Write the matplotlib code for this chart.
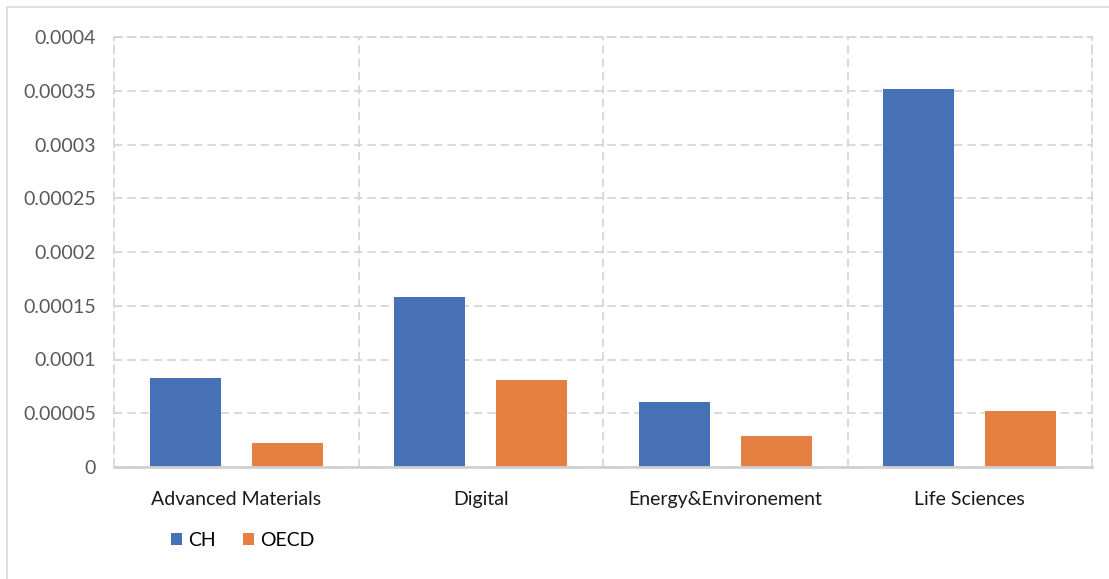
import matplotlib.pyplot as plt
import numpy as np
from matplotlib.patches import Rectangle

categories = ["Advanced Materials", "Digital", "Energy&Environement", "Life Sciences"]
series_names = ["CH", "OECD"]
ch_values = [0.0000830, 0.0001585, 0.0000605, 0.0003518]
oecd_values = [0.0000220, 0.0000810, 0.0000290, 0.0000525]
yticks = [0, 0.00005, 0.0001, 0.00015, 0.0002, 0.00025, 0.0003, 0.00035, 0.0004]
ytick_labels = ["0", "0.00005", "0.0001", "0.00015", "0.0002", "0.00025", "0.0003", "0.00035", "0.0004"]

blue = "#4672B5"
orange = "#E58042"
grid_color = "#D3D3D3"

plt.rcParams["font.family"] = ["Lato", "DejaVu Sans"]

W, H = 1109, 579
figure = plt.figure(figsize=(W / 100, H / 100), dpi=100)
axis = figure.add_axes([114 / W, 1 - 467 / H, (1092 - 114) / W, (467 - 37) / H])

# outer chart border (top and left visible only)
figure.patches.append(Rectangle((7 / W, -0.1), 1.2, 1 - 7 / H + 0.1,
                                transform=figure.transFigure, fill=False,
                                edgecolor="#D9D9D9", linewidth=1.2))

x = np.arange(len(categories))
offset = 0.209
width = 0.29
axis.bar(x - offset, ch_values, width, color=blue, label=series_names[0], zorder=3)
axis.bar(x + offset, oecd_values, width, color=orange, label=series_names[1], zorder=3)

axis.set_xlim(-0.5, len(categories) - 0.5)
axis.set_ylim(0, 0.0004)
axis.set_yticks(yticks)
axis.set_yticklabels(ytick_labels, color="#595959", fontsize=14)
axis.set_xticks(x)
axis.set_xticklabels(categories, color="#1A1A1A", fontsize=14)
axis.tick_params(axis="both", length=0)
axis.tick_params(axis="x", pad=17)
axis.tick_params(axis="y", pad=13)

axis.yaxis.grid(True, color=grid_color, linestyle=(0, (5, 3)), linewidth=1.2, zorder=0)
for boundary in np.arange(0.5, len(categories) - 0.5, 1):
    axis.axvline(boundary, color=grid_color, linestyle=(0, (5, 3)), linewidth=1.2, zorder=0)

for side in ["left", "right", "top"]:
    axis.spines[side].set_color(grid_color)
    axis.spines[side].set_linestyle((0, (5, 3)))
    axis.spines[side].set_linewidth(1.2)
axis.spines["bottom"].set_color("#D0D0D0")
axis.spines["bottom"].set_linewidth(2)
axis.spines["bottom"].set_zorder(4)

axis.legend(loc="center left", bbox_to_anchor=(171 / W, 1 - 540 / H),
            bbox_transform=figure.transFigure, ncol=2, frameon=False,
            fontsize=14, handlelength=0.57, handleheight=0.57,
            handletextpad=0.3, columnspacing=1.4, borderpad=0, borderaxespad=0)

figure.savefig("out.png", dpi=100)
